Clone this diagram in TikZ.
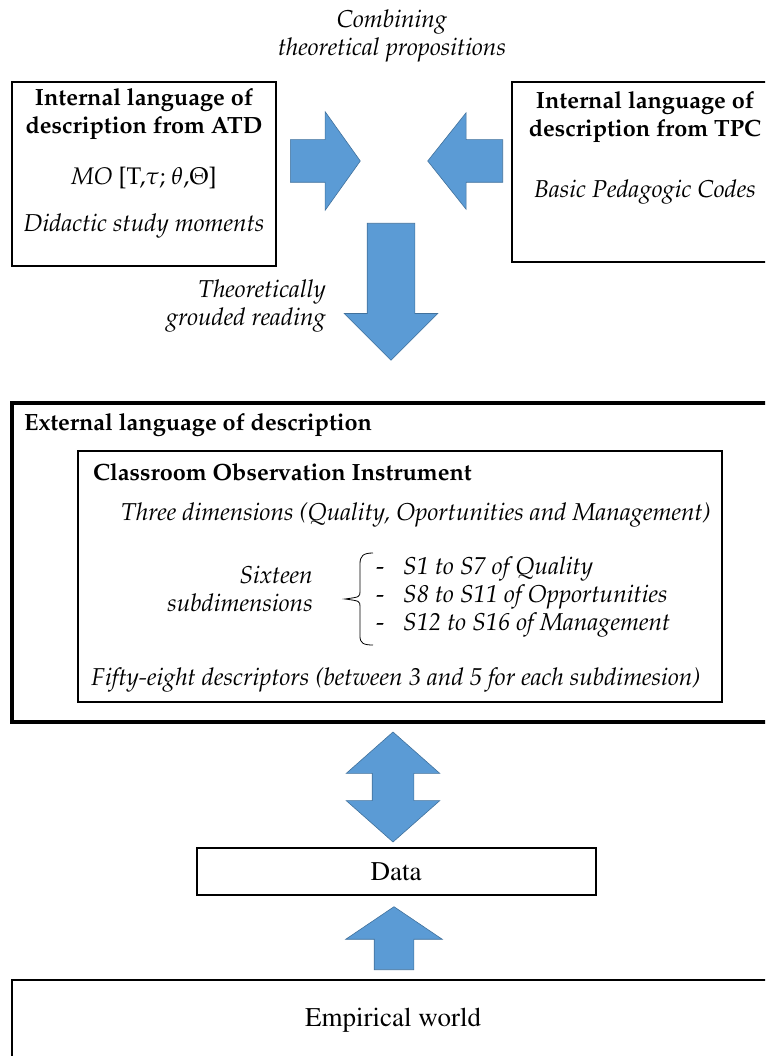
\documentclass[tikz,border=0pt]{standalone}
\usepackage[T1]{fontenc}
\usepackage{mathpazo}
\usetikzlibrary{shapes.arrows}

\definecolor{arrowblue}{HTML}{5B9BD5}
\definecolor{arrowedge}{HTML}{41719C}

\begin{document}
\begin{tikzpicture}[x=1pt, y=-1pt,
    panel/.style={draw, line width=1.6pt, inner sep=0pt},
    txt/.style={inner sep=0pt, font=\fontsize{24}{28}\selectfont},
    head/.style={inner sep=0pt, font=\fontsize{23.5}{28}\selectfont\bfseries},
    note/.style={inner sep=0pt, font=\fontsize{24.4}{28}\selectfont\itshape},
    times/.style={inner sep=0pt, font=\fontsize{27}{28}\fontfamily{ptm}\selectfont},
    blockarrow/.style={fill=arrowblue, draw=arrowedge, line width=0.6pt, inner xsep=0pt}]
\useasboundingbox (0,0) rectangle (765,1056);
\clip (0,0) rectangle (765,1056);

% the two internal languages
\node (atd) [panel, minimum width=264pt, minimum height=184pt] at (144,174) {};
\node (atdtitle) [head, align=center] at (144,114) {Internal language of\\description from ATD};
\node (atdmo) [txt] at (144,178) {\textit{MO} [T,$\tau$; $\theta$,$\Theta$]};
\node (atdmoments) [note] at (144,226) {Didactic study moments};

\node (tpc) [panel, minimum width=278pt, minimum height=180pt] at (651,172) {};
\node (tpctitle) [head, align=center] at (645,117) {Internal language of\\description from TPC};
\node (tpccodes) [note] at (645,192) {Basic Pedagogic Codes};

\node (combine) [note, align=center] at (392,36) {Combining\\theoretical propositions};

\node (toright) [blockarrow, single arrow, minimum height=70pt, minimum width=98pt,
    inner ysep=21pt, single arrow head extend=28pt, single arrow tip angle=109,
    anchor=tail] at (290,161) {};
\node (toleft) [blockarrow, single arrow, minimum height=75pt, minimum width=96pt,
    inner ysep=21pt, single arrow head extend=27pt, single arrow tip angle=103,
    anchor=tail, rotate=180] at (503,161) {};
\node (todown) [blockarrow, single arrow, minimum height=137pt, minimum width=93pt,
    inner ysep=23.5pt, single arrow head extend=23pt, single arrow tip angle=90,
    anchor=tail, rotate=-90] at (391,223) {};

\node (reading) [note, align=right, anchor=east] at (326,306) {Theoretically\\grouded reading};

% external language
\node (external) [panel, line width=3.5pt, minimum width=778pt, minimum height=319pt] at (401,562.5) {};
\node (externaltitle) [head, anchor=west] at (24,425) {External language of description};

\node (instrument) [panel, line width=1.3pt, minimum width=644pt, minimum height=251pt] at (400,576.5) {};
\node (instrumenttitle) [head, anchor=west] at (93,472) {Classroom Observation Instrument};
\node (dimensions) [note] at (416,515) {Three dimensions (Quality, Oportunities and Management)};
\node (sixteen) [note, align=right, anchor=east] at (313,589) {Sixteen\\subdimensions};

\coordinate (bracetop) at (373,553);
\coordinate (bracebot) at (373,645);
\draw[line width=0.8pt] (bracetop) .. controls (363,553) and (360,556) .. (360,564) -- (360,591)
    .. controls (360,597) .. (345,599) .. controls (360,601) .. (360,607) -- (360,636)
    .. controls (360,643) and (363,645) .. (bracebot);

\node (subdims) [note, align=left, anchor=west] at (376,597)
    {\makebox[27pt][l]{\upshape -}S1 to S7 of Quality\\
     \makebox[27pt][l]{\upshape -}S8 to S11 of Opportunities\\
     \makebox[27pt][l]{\upshape -}S12 to S16 of Management};
\node (descriptors) [note] at (396,680) {Fifty-eight descriptors (between 3 and 5 for each subdimesion)};

% data and the empirical world
\node (twoway) [blockarrow, double arrow, minimum height=110pt, minimum width=93pt,
    inner ysep=20.5pt, double arrow head extend=26pt, double arrow tip angle=97,
    rotate=90] at (393,787) {};

\node (data) [panel, minimum width=399pt, minimum height=47pt] at (396.5,871.5) {};
\node (datatext) [times] at (396,872) {Data};

\node (toup) [blockarrow, single arrow, minimum height=63pt, minimum width=96pt,
    inner ysep=19.5pt, single arrow head extend=28.5pt, single arrow tip angle=112,
    anchor=tail, rotate=90] at (394,970) {};

\node (empirical) [panel, minimum width=778pt, minimum height=100pt] at (401,1030) {};
\node (empiricaltext) [times] at (393,1020) {Empirical world};
\end{tikzpicture}
\end{document}
